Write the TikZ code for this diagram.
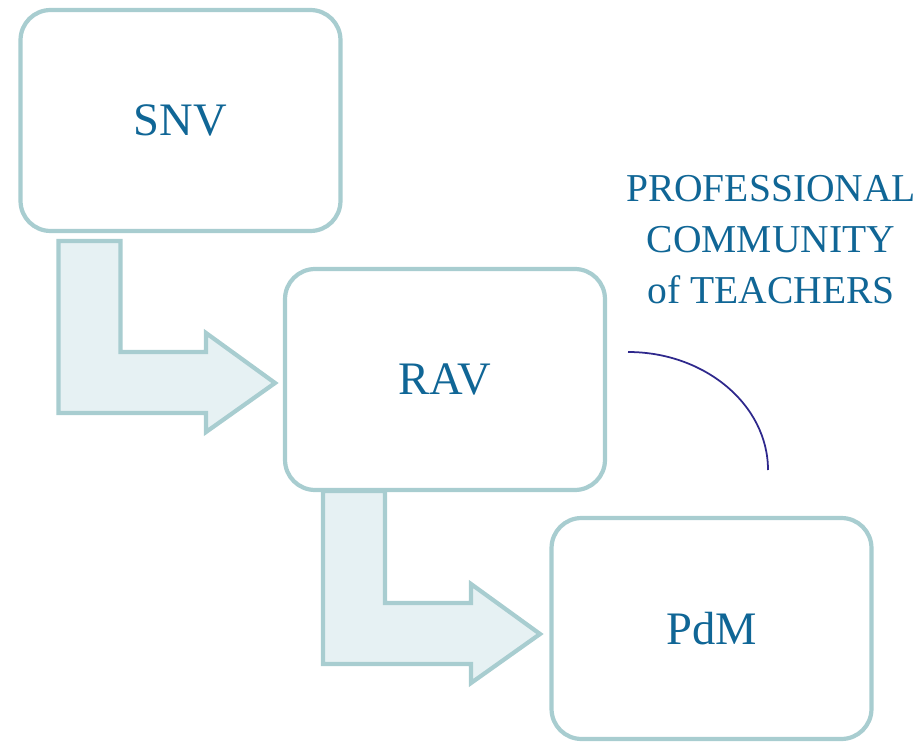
\documentclass[tikz,border=0pt]{standalone}
\usepackage{fontspec}
\setmainfont{Liberation Serif}
\usetikzlibrary{calc, positioning}

\definecolor{boxline}{RGB}{168,205,208}
\definecolor{arrowfill}{RGB}{230,241,243}
\definecolor{textblue}{RGB}{16,102,150}
\definecolor{arcblue}{RGB}{46,40,140}

% bent arrow from top-left corner #1 to tip #2
\newcommand{\bentarrow}[2]{%
  \draw[flowarrow] (#1) -- ++(62,0) |- ($(#2)+(-69,-31)$) -- ++(0,-19) -- (#2)
    -- ++(-69,49) -- ++(0,-19) -- ($(#1 |- #2)+(0,30)$) -- cycle;}

\begin{document}
\begin{tikzpicture}[x=0.02cm, y=-0.02cm,
    stage/.style={draw=boxline, line width=2.4pt, rounded corners=0.6cm,
      fill=white, minimum width=6.4cm, minimum height=4.42cm,
      outer sep=0pt, inner sep=0pt, text=textblue,
      font=\fontsize{26.5}{32}\selectfont},
    flowarrow/.style={draw=boxline, fill=arrowfill, line width=2.4pt},
    groupnote/.style={text=textblue, align=center,
      font=\fontsize{22.5}{29}\selectfont}]

\useasboundingbox (0,0) rectangle (920,743);

\node[stage] (snv) at (180.5,120.5) {SNV};
\node[stage] (rav) at (445,379.5) {RAV};
\node[stage] (pdm) at (711.5,628.5) {PdM};

\coordinate (s1) at ($(snv.south west)+(38,10)$);
\coordinate (t1) at ($(rav.west)+(-10,3.5)$);
\coordinate (s2) at ($(rav.south west)+(38,1)$);
\coordinate (t2) at ($(pdm.west)+(-11.5,5.5)$);

\bentarrow{s1}{t1}
\bentarrow{s2}{t2}

\node[groupnote] (pct) at (771,240) {PROFESSIONAL\\COMMUNITY\\of TEACHERS};

\coordinate (arcstart) at (628,352);
\coordinate (arcend) at (768,470);
\draw[arcblue, line width=1pt] (arcstart)
  .. controls ($(arcstart)+(77,0)$) and ($(arcend)+(0,-65)$) .. (arcend);

\end{tikzpicture}
\end{document}
